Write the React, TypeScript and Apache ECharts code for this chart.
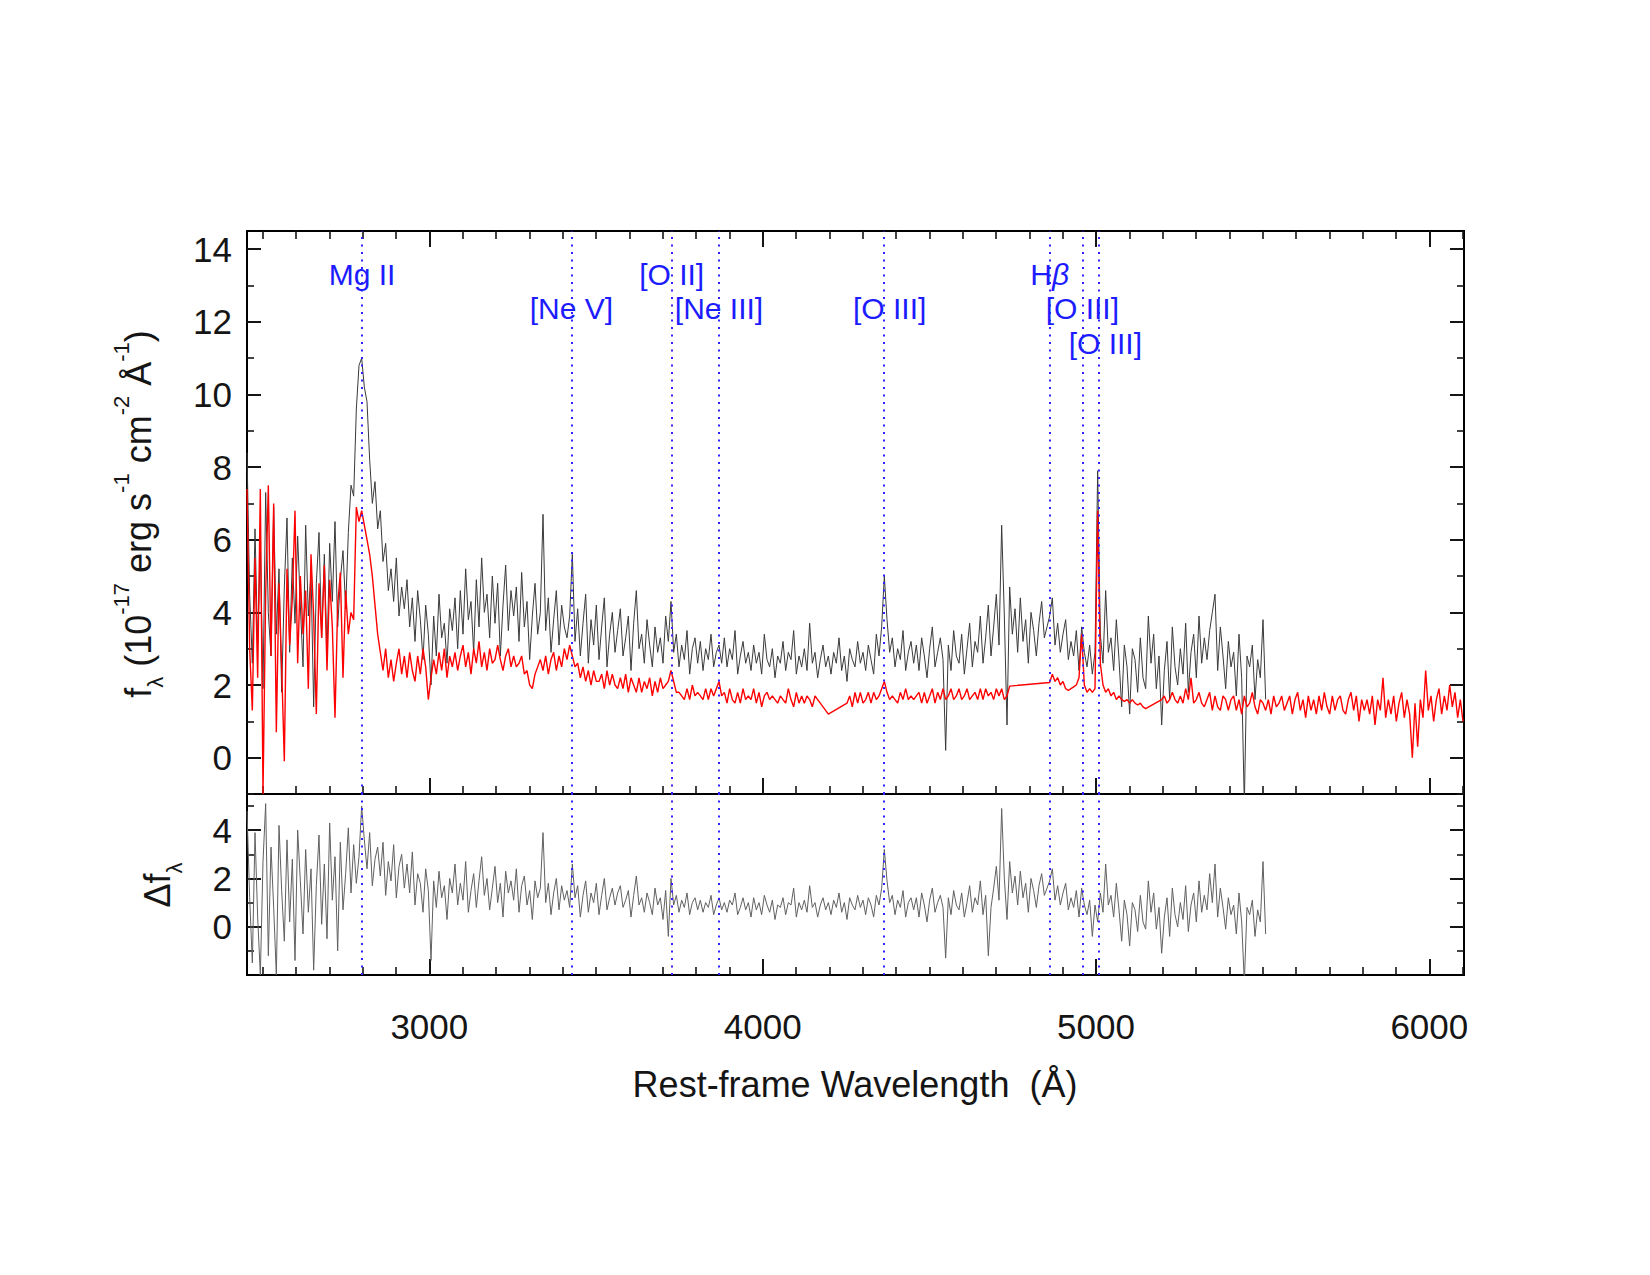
import React, { useEffect, useRef } from "react";
import * as echarts from "echarts";

// Rest-frame wavelength grid of the binned spectra (Å)
const WAVE_START = 2453;
const WAVE_STEP = 8;
const X_MIN = 2453;
const X_MAX = 6104;

// Observed spectrum f_lambda (1e-17 erg/s/cm^2/Å), 2453–5509 Å
const OBSERVED_FLUX: number[] = [
  8.4, 4.5, 2.6, 6.3, 3.1, 5.8, 1.9, 7.3, 4.0, 2.8,
  6.9, 3.4, 5.2, 1.8, 4.7, 6.6, 2.9, 5.5, 3.7, 6.1,
  4.2, 2.5, 6.4, 3.9, 5.1, 1.4, 4.8, 6.2, 3.3, 5.6,
  2.8, 5.9, 4.3, 6.5, 3.6, 4.9, 5.7, 4.1, 6.2, 7.5,
  7.2, 9.6, 10.8, 11.0, 10.2, 9.8, 8.2, 7.0, 7.6, 6.3,
  6.8, 5.4, 5.9, 4.6, 5.2, 4.3, 5.5, 3.9, 4.7, 4.1,
  4.9, 3.6, 4.4, 3.2, 4.6, 3.8, 2.7, 4.2, 3.4, 2.0,
  3.9, 2.8, 4.5, 3.3, 3.7, 2.6, 4.1, 3.5, 4.4, 3.0,
  4.6, 3.4, 5.2, 3.8, 4.3, 2.9, 4.9, 3.6, 5.5, 4.0,
  4.5, 3.3, 5.0, 3.7, 4.8, 2.8, 4.2, 5.3, 3.5, 4.6,
  3.9, 4.7, 3.2, 5.1, 3.6, 4.3, 2.7, 3.9, 4.8, 3.4,
  4.0, 6.7, 3.5, 4.4, 2.9, 3.8, 4.6, 3.1, 4.2, 3.6,
  3.3, 3.9, 5.6, 3.2, 4.1, 2.8, 3.7, 4.5, 2.6, 3.8,
  3.1, 4.2, 2.7, 3.6, 4.4, 2.5, 3.4, 4.0, 2.9, 3.5,
  4.1, 2.8, 3.3, 3.9, 2.4, 3.7, 4.6, 3.0, 3.4, 2.6,
  3.8, 3.1, 2.5, 3.6, 2.9, 3.3, 2.6, 3.9, 3.2, 4.3,
  2.9, 3.4, 2.5, 3.1, 2.7, 3.5, 2.3, 3.0, 3.3, 2.6,
  3.2, 2.4, 3.0, 2.7, 3.4, 2.5, 2.9, 3.1, 2.6, 3.3,
  2.5, 3.0, 2.7, 3.5, 2.3, 2.8, 3.2, 2.6, 2.9, 2.4,
  3.1, 2.6, 2.9, 2.3, 3.4, 2.7, 2.5, 3.0, 2.2, 2.8,
  2.6, 3.2, 2.4, 2.9, 2.7, 3.5, 2.3, 2.8, 2.5, 3.0,
  2.4, 3.7, 2.6, 2.9, 2.2, 2.7, 3.1, 2.5, 2.8, 2.3,
  2.9, 2.6, 3.3, 2.4, 2.8, 2.1, 3.0, 2.7, 2.5, 3.2,
  2.6, 2.9, 2.4, 3.1, 2.7, 2.3, 3.4, 2.8, 3.6, 5.0,
  3.8, 2.9, 3.3, 2.5, 3.0, 2.7, 3.5, 2.4, 2.9, 3.2,
  2.6, 3.1, 2.4, 3.3, 2.8, 2.2, 3.0, 3.6, 2.5, 2.9,
  3.3, 2.7, 0.2, 3.1, 2.4, 3.5, 2.8, 2.6, 3.4, 2.3,
  3.0, 3.7, 2.5, 3.2, 2.9, 3.9, 2.6, 3.3, 4.2, 2.8,
  3.6, 4.5, 3.1, 6.4, 3.9, 0.9, 4.7, 3.4, 4.1, 2.9,
  4.4, 3.2, 3.8, 2.6, 4.0, 3.5, 2.8, 3.7, 4.3, 3.3,
  3.6, 3.9, 4.4, 3.1, 3.7, 2.9, 3.4, 3.8, 2.7, 3.2,
  2.8, 3.5, 2.4, 3.6, 2.9, 2.5, 3.1, 2.3, 2.9, 7.9,
  3.4, 2.6, 4.6, 2.9, 3.3, 2.4, 3.8, 2.7, 1.4, 3.1,
  2.5, 1.2, 3.0, 2.7, 1.8, 3.3, 2.2, 1.9, 3.9, 2.6,
  3.4, 1.9, 2.8, 0.9, 2.4, 3.2, 1.6, 3.6, 2.5, 2.0,
  3.0, 2.3, 3.7, 1.8, 2.9, 3.4, 2.2, 3.9, 2.6, 3.3,
  2.7, 3.5, 4.0, 4.5, 2.4, 3.6, 2.8, 1.9, 3.2, 2.5,
  2.9, 1.7, 3.4, 2.2, -1.3, 2.8, 2.5, 3.1, 1.6, 2.7,
  2.2, 3.8, 1.6,
];

// Composite / model spectrum, 2453–6101 Å (null = masked pixels)
const MODEL_FLUX: (number | null)[] = [
  7.4, 3.0, 1.3, 5.5, 2.2, 7.4, -1.0, 4.5, 7.5, 2.8,
  7.0, 0.7, 4.8, 2.5, -0.1, 5.2, 3.1, 4.4, 6.8, 2.6,
  5.0, 3.4, 4.6, 1.9, 5.6, 3.9, 1.2, 4.8, 3.3, 5.3,
  2.4, 4.9, 3.6, 1.1, 4.2, 5.1, 2.2, 4.6, 3.4, 4.0,
  3.8, 6.9, 6.5, 6.8, 6.4, 6.0, 5.6, 5.0, 4.2, 3.4,
  2.9, 2.4, 3.0, 2.2, 2.7, 2.1, 2.6, 3.0, 2.3, 2.8,
  2.2, 2.9, 2.4, 2.1, 2.8, 2.3, 3.0, 2.5, 1.6, 2.2,
  2.7, 2.3, 2.9, 2.4, 3.0, 2.2, 2.8, 2.5, 2.9, 2.4,
  2.8, 3.1, 2.5, 2.9, 2.3, 3.0, 2.6, 3.2, 2.5, 2.9,
  2.4, 3.0, 2.6, 2.7, 3.1, 2.7, 2.4, 2.8, 3.0, 2.5,
  2.8, 2.5, 2.6, 2.8, 2.3, 2.4, 2.0, 1.9, 2.3, 2.5,
  2.7, 2.4, 2.8, 2.3, 2.7, 2.9, 2.4, 2.8, 2.5, 3.0,
  2.7, 3.1, 2.8, 2.5, 2.6, 2.2, 2.5, 2.1, 2.4, 2.0,
  2.4, 2.1, 2.1, 2.3, 1.9, 2.4, 2.0, 2.3, 2.0, 1.9,
  2.2, 1.9, 2.3, 1.8, 2.2, 2.0, 1.8, 2.2, 1.8, 2.1,
  1.9, 2.2, 1.7, 2.1, 1.8, 2.2, 1.9, 2.0, 2.1, 2.4,
  2.1, 1.8, 1.8, 1.7, 1.6, 1.9, 1.6, 2.0, 1.7, 1.8,
  1.7, 1.6, 1.9, 1.6, 1.9, 1.7, 1.9, 2.1, 1.7, 1.8,
  1.5, 1.9, 1.6, 1.5, 1.8, 1.5, 1.9, 1.6, 1.7, 1.6,
  1.9, 1.5, 1.8, 1.4, 1.7, 1.8, 1.6, 1.7, 1.6, 1.5,
  1.7, 1.6, 1.5, 1.9, 1.6, 1.4, 1.8, 1.5, 1.7, 1.5,
  1.7, 1.6, 1.4, 1.7, 1.6, 1.5, 1.4, 1.3, 1.2, null,
  null, null, null, null, null, 1.5, 1.7, 1.4, 1.8, 1.5,
  1.8, 1.5, 1.6, 1.8, 1.5, 1.8, 1.6, 1.7, 1.9, 2.1,
  1.8, 1.6, 1.7, 1.6, 1.5, 1.8, 1.6, 1.9, 1.6, 1.7,
  1.6, 1.7, 1.8, 1.5, 1.8, 1.5, 1.7, 1.9, 1.5, 1.8,
  1.6, 1.9, 1.6, 1.7, 1.9, 1.6, 1.7, 1.9, 1.6, 1.7,
  1.9, 1.6, 1.7, 1.8, 1.6, 1.9, 1.6, 1.9, 1.7, 1.8,
  1.6, 1.9, 1.7, 1.9, 1.6, 1.7, 1.97, null, null, null,
  null, null, null, null, null, null, null, null, null, null,
  null, 2.07, 2.3, 2.1, 2.2, 2.0, 2.1, 1.9, 1.85, 1.9,
  1.95, 2.0, 2.2, 3.4, 2.0, 1.8, 1.9, 1.8, 1.9, 6.8,
  2.6, 2.0, 1.8, 1.9, 1.7, 1.8, 1.6, 1.7, 1.6, 1.55,
  1.6, 1.5, 1.6, 1.5, 1.45, 1.5, 1.4, 1.35, null, null,
  null, null, null, 1.6, 1.7, 1.5, 1.6, 1.8, 1.6, 1.5,
  1.7, 1.5, 1.9, 1.6, 2.2, 1.5, 1.6, 1.8, 1.5, 1.4,
  1.6, 1.8, 1.3, 1.7, 1.4, 1.3, 1.7, 1.6, 1.3, 1.6,
  1.7, 1.3, 1.6, 1.2, 1.7, 1.4, 1.5, 1.8, 1.4, 1.2,
  1.6, 1.5, 1.3, 1.6, 1.2, 1.7, 1.4, 1.5, 1.7, 1.3,
  1.5, 1.7, 1.2, 1.6, 1.8, 1.3, 1.6, 1.1, 1.7, 1.3,
  1.6, 1.2, 1.7, 1.3, 1.8, 1.4, 1.2, 1.7, 1.3, 1.6,
  1.7, 1.3, 1.2, 1.6, 1.8, 1.3, 1.7, 1.0, 1.6, 1.3,
  1.6, 1.2, 1.7, 0.9, 1.6, 1.3, 2.2, 1.1, 1.6, 1.2,
  1.7, 1.0, 1.5, 1.8, 1.1, 1.6, 1.2, 0.0, 1.5, 0.3,
  1.6, 1.1, 2.4, 1.3, 1.7, 1.0, 1.6, 1.9, 1.2, 1.7,
  1.3, 2.0, 1.4, 1.8, 1.1, 1.6, 1.0,
];

// Difference spectrum Δf_lambda, 2453–5509 Å
const FLUX_DIFF: number[] = [
  4.8, 1.2, -1.5, 3.9, 0.4, -2.0, 2.7, 5.1, -1.2, 3.3,
  0.8, -2.0, 4.2, 1.5, -0.6, 3.6, 0.2, 2.8, -1.4, 4.0,
  1.9, -0.3, 3.2, 0.6, 2.4, -1.8, 1.7, 3.8, 0.1, 2.6,
  -0.5, 4.3, 1.1, 2.9, -1.0, 3.5, 0.7, 2.2, 4.1, 1.4,
  3.4, 1.8, 2.9, 5.0, 3.6, 2.4, 3.9, 1.7, 2.8, 3.3,
  2.1, 3.5, 1.3, 2.7, 1.9, 3.4, 1.2, 2.5, 3.0, 1.6,
  2.6, 1.4, 3.1, 0.9, 2.2, 1.8, 0.6, 2.4, 1.5, -1.4,
  1.9, 0.8, 2.3, 1.2, 1.7, 0.3, 2.0, 1.4, 2.6, 0.9,
  1.8, 1.1, 2.7, 0.6, 1.5, 2.2, 0.8, 1.9, 2.9, 1.3,
  2.0, 0.7, 1.6, 2.5, 1.0, 1.8, 0.4, 2.3, 1.4, 1.9,
  1.1, 2.4, 0.6, 1.7, 2.1, 0.9, 1.5, 0.3, 1.9, 1.2,
  1.6, 3.9, 1.0, 1.8, 0.5, 1.4, 2.0, 0.7, 1.7, 1.1,
  1.5, 0.8, 2.6, 1.2, 1.7, 0.4, 1.3, 1.9, 0.6, 1.4,
  1.0, 1.8, 0.5, 1.3, 2.0, 0.7, 1.2, 1.6, 0.9, 1.4,
  1.7, 0.8, 1.1, 1.5, 0.4, 1.3, 2.1, 0.9, 1.2, 0.6,
  1.4, 1.0, 0.5, 1.6, 0.9, 1.2, 0.3, 1.5, -0.4, 2.0,
  0.9, 1.3, 0.6, 1.1, 0.8, 1.4, 0.5, 1.0, 1.2, 0.7,
  1.1, 0.6, 1.0, 0.8, 1.3, 0.5, 0.9, 1.2, 0.7, 1.0,
  0.6, 1.1, 0.9, 1.4, 0.5, 0.8, 1.2, 0.7, 1.0, 0.4,
  1.2, 0.7, 1.0, 0.5, 1.3, 0.9, 0.6, 1.1, 0.3, 0.9,
  0.8, 1.2, 0.5, 1.0, 0.9, 1.6, 0.4, 1.0, 0.7, 1.1,
  0.6, 1.7, 0.8, 1.0, 0.4, 0.9, 1.2, 0.7, 1.0, 0.5,
  1.1, 0.8, 1.4, 0.6, 1.0, 0.3, 1.2, 0.9, 0.7, 1.3,
  0.8, 1.1, 0.5, 1.2, 0.9, 0.4, 1.3, 0.9, 1.6, 3.2,
  1.9, 1.0, 1.3, 0.5, 1.1, 0.8, 1.5, 0.4, 1.0, 1.2,
  0.7, 1.2, 0.4, 1.4, 0.9, 0.2, 1.1, 1.6, 0.6, 1.0,
  1.3, 0.8, -1.3, 1.2, 0.5, 1.5, 0.9, 0.7, 1.4, 0.4,
  1.0, 1.7, 0.6, 1.2, 0.9, 1.9, 0.5, 1.3, -1.2, 0.8,
  1.6, 2.5, 1.1, 4.9, 2.0, 0.3, 2.7, 1.4, 2.1, 0.9,
  2.3, 1.2, 1.8, 0.6, 2.0, 1.5, 0.8, 1.7, 2.2, 1.3,
  1.6, 1.9, 2.4, 1.1, 1.7, 0.9, 1.4, 1.8, 0.7, 1.2,
  0.8, 1.5, 0.4, 1.6, 0.9, 0.5, 1.1, -0.4, 0.9, 0.2,
  1.4, 0.6, 2.6, 0.9, 1.3, 0.4, 1.8, 0.7, -0.6, 1.1,
  0.5, -0.8, 1.0, 0.7, -0.2, 1.3, 0.2, -0.1, 1.9, 0.6,
  1.4, -0.1, 0.8, -1.1, 0.4, 1.2, -0.4, 1.6, 0.5, 0.0,
  1.0, 0.3, 1.7, -0.2, 0.9, 1.4, 0.2, 1.9, 0.6, 1.3,
  0.7, 2.2, 1.0, 2.6, 0.4, 1.6, 0.8, -0.1, 1.2, 0.5,
  0.9, -0.3, 1.4, 0.2, -2.3, 0.8, 0.5, 1.1, -0.4, 0.7,
  0.2, 2.7, -0.3,
];

// Emission lines marked on both panels
const LINE_NAMES = ["Mg II", "[Ne V]", "[O II]", "[Ne III]", "[O III]", "Hβ", "[O III]", "[O III]"];
const LINE_WAVES = [2798, 3426, 3727, 3869, 4363, 4861, 4959, 5007];
const LINE_ROWS = [0, 1, 0, 1, 1, 0, 1, 2];
// horizontal nudge of each label (px)
const LINE_LABEL_SHIFT = [0, 0, 0, 0, 6, 0, 0, 7];

// Tick positions
const X_MAJOR = [3000, 4000, 5000, 6000];
const X_MINOR = Array.from({ length: 37 }, (_, k) => 2500 + 100 * k);
const Y_UPPER_MAJOR = [0, 2, 4, 6, 8, 10, 12, 14];
const Y_UPPER_MINOR = [-1, 1, 3, 5, 7, 9, 11, 13];
const Y_LOWER_MAJOR = [0, 2, 4];
const Y_LOWER_MINOR = [-1, 1, 3, 5];

const FONT = "'Liberation Sans', Arial, Helvetica, sans-serif";
const INK = "#151515";
const LINE_BLUE = "#1c1cff";
const DOT_BLUE = "#3320ff";

const toSpectrum = (vals: (number | null)[]) =>
  vals.map((v, i) => [WAVE_START + WAVE_STEP * i, v === null ? "-" : v]);

function xAxisDef(gridIndex: number, position: string, ticks: number[], length: number, width: number, labels?: number[]) {
  return {
    type: "value",
    gridIndex,
    position,
    min: X_MIN,
    max: X_MAX,
    axisLine: { show: false, onZero: false },
    splitLine: { show: false },
    axisTick: { show: true, inside: true, length, customValues: ticks, lineStyle: { color: INK, width } },
    axisLabel: labels
      ? {
          show: true,
          customValues: labels,
          margin: 34,
          fontSize: 35,
          color: INK,
          fontFamily: FONT,
          formatter: (v: number) => String(v),
        }
      : { show: false },
  };
}

function yAxisDef(gridIndex: number, position: string, min: number, max: number, ticks: number[], length: number, width: number, labels?: number[]) {
  return {
    type: "value",
    gridIndex,
    position,
    min,
    max,
    axisLine: { show: false, onZero: false },
    splitLine: { show: false },
    axisTick: { show: true, inside: true, length, customValues: ticks, lineStyle: { color: INK, width } },
    axisLabel: labels
      ? {
          show: true,
          customValues: labels,
          margin: 15,
          fontSize: 35,
          color: INK,
          fontFamily: FONT,
          formatter: (v: number) => String(v),
        }
      : { show: false },
  };
}

const LABEL_ROW_TOP = 43;
const LABEL_ROW_GAP = 34.7;

function buildOption() {
  const markLines = {
    silent: true,
    symbol: ["none", "none"],
    label: { show: false },
    lineStyle: { color: DOT_BLUE, width: 2, type: [2, 5.5], cap: "butt" },
    emphasis: { disabled: true },
    data: LINE_WAVES.map((w) => ({ xAxis: w })),
  };

  return {
    animation: false,
    backgroundColor: "#ffffff",
    textStyle: { fontFamily: FONT },
    grid: [
      { left: 247, top: 231, width: 1217, height: 563, show: true, borderColor: "#000", borderWidth: 2, backgroundColor: "transparent", containLabel: false, outerBoundsMode: "none" },
      { left: 247, top: 794, width: 1217, height: 181, show: true, borderColor: "#000", borderWidth: 2, backgroundColor: "transparent", containLabel: false, outerBoundsMode: "none" },
    ],
    xAxis: [
      xAxisDef(0, "bottom", X_MAJOR, 16, 2),
      xAxisDef(0, "bottom", X_MINOR, 8, 1.6),
      xAxisDef(0, "top", X_MAJOR, 16, 2),
      xAxisDef(0, "top", X_MINOR, 8, 1.6),
      xAxisDef(1, "bottom", X_MAJOR, 16, 2, X_MAJOR),
      xAxisDef(1, "bottom", X_MINOR, 8, 1.6),
    ],
    yAxis: [
      yAxisDef(0, "left", -1, 14.5, Y_UPPER_MAJOR, 14, 2, Y_UPPER_MAJOR),
      yAxisDef(0, "left", -1, 14.5, Y_UPPER_MINOR, 7, 1.6),
      yAxisDef(0, "right", -1, 14.5, Y_UPPER_MAJOR, 14, 2),
      yAxisDef(0, "right", -1, 14.5, Y_UPPER_MINOR, 7, 1.6),
      yAxisDef(1, "left", -2, 5.5, Y_LOWER_MAJOR, 14, 2, Y_LOWER_MAJOR),
      yAxisDef(1, "left", -2, 5.5, Y_LOWER_MINOR, 7, 1.6),
      yAxisDef(1, "right", -2, 5.5, Y_LOWER_MAJOR, 14, 2),
      yAxisDef(1, "right", -2, 5.5, Y_LOWER_MINOR, 7, 1.6),
    ],
    series: [
      {
        name: "observed",
        type: "line",
        xAxisIndex: 0,
        yAxisIndex: 0,
        data: toSpectrum(OBSERVED_FLUX),
        showSymbol: false,
        symbol: "none",
        silent: true,
        lineStyle: { color: "#3a3a3a", width: 1 },
        z: 2,
      },
      {
        name: "model",
        type: "line",
        xAxisIndex: 0,
        yAxisIndex: 0,
        data: toSpectrum(MODEL_FLUX),
        connectNulls: true,
        showSymbol: false,
        symbol: "none",
        silent: true,
        lineStyle: { color: "#ff0000", width: 1.4 },
        z: 3,
        markLine: markLines,
      },
      {
        name: "line labels",
        type: "custom",
        xAxisIndex: 0,
        yAxisIndex: 0,
        silent: true,
        clip: false,
        z: 6,
        data: LINE_WAVES.map((w, i) => [w, LINE_ROWS[i]]),
        renderItem: (params: any, api: any) => {
          const idx = params.dataIndex;
          const x = api.coord([api.value(0), 0])[0] + LINE_LABEL_SHIFT[idx];
          const row = api.value(1) as number;
          const name = LINE_NAMES[idx];
          const text = name === "Hβ" ? "{n|H}{i|β}" : `{n|${name}}`;
          return {
            type: "text",
            x,
            y: params.coordSys.y + LABEL_ROW_TOP + row * LABEL_ROW_GAP,
            style: {
              text,
              align: "center",
              verticalAlign: "middle",
              rich: {
                n: { fill: LINE_BLUE, fontSize: 30, fontFamily: FONT },
                i: { fill: LINE_BLUE, fontSize: 30, fontFamily: FONT, fontStyle: "italic" },
              },
            },
          };
        },
      },
      {
        name: "difference",
        type: "line",
        xAxisIndex: 4,
        yAxisIndex: 4,
        data: toSpectrum(FLUX_DIFF),
        showSymbol: false,
        symbol: "none",
        silent: true,
        lineStyle: { color: "#606060", width: 1 },
        z: 2,
        markLine: markLines,
      },
    ],
    graphic: [
      {
        type: "text",
        x: 138,
        y: 514,
        rotation: Math.PI / 2,
        silent: true,
        style: {
          text: "{b|f}{s|λ}{b| (10}{p|-17}{b| erg s}{p|-1}{b| cm}{p|-2}{b| Å}{p|-1}{b|)}",
          align: "center",
          verticalAlign: "middle",
          rich: {
            b: { fill: INK, fontSize: 36, fontFamily: FONT, lineHeight: 56 },
            p: { fill: INK, fontSize: 22, fontFamily: FONT, lineHeight: 10, verticalAlign: "top" },
            s: { fill: INK, fontSize: 22, fontFamily: FONT, lineHeight: 36, verticalAlign: "bottom" },
          },
        },
      },
      {
        type: "text",
        x: 157,
        y: 885,
        rotation: Math.PI / 2,
        silent: true,
        style: {
          text: "{b|Δf}{s|λ}",
          align: "center",
          verticalAlign: "middle",
          rich: {
            b: { fill: INK, fontSize: 36, fontFamily: FONT, lineHeight: 56 },
            s: { fill: INK, fontSize: 22, fontFamily: FONT, lineHeight: 20, verticalAlign: "bottom" },
          },
        },
      },
      {
        type: "text",
        x: 855,
        y: 1084,
        silent: true,
        style: {
          text: "Rest-frame Wavelength  (Å)",
          fill: INK,
          fontSize: 36,
          fontFamily: FONT,
          align: "center",
          verticalAlign: "middle",
        },
      },
    ],
  };
}

export default function App() {
  const ref = useRef<HTMLDivElement>(null);

  useEffect(() => {
    if (!ref.current) return;
    const chart = echarts.init(ref.current, undefined, { renderer: "svg" });
    chart.setOption(buildOption() as any);
    return () => {
      chart.dispose();
    };
  }, []);

  return (
    <div
      ref={ref}
      style={{ position: "fixed", left: 0, top: 0, width: 1650, height: 1275, background: "#ffffff" }}
    />
  );
}
